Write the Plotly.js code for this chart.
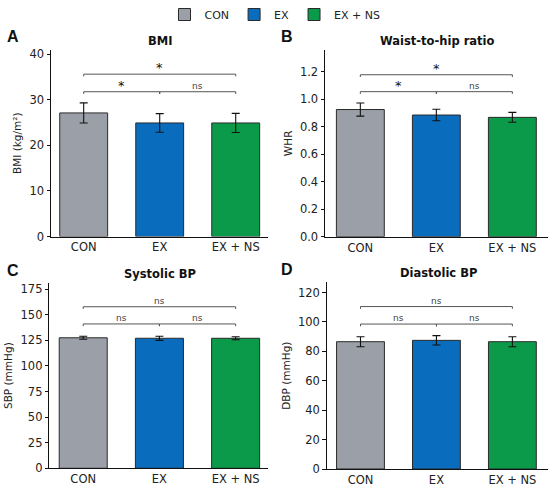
<!DOCTYPE html>
<html>
<head>
<meta charset="utf-8">
<script src="https://cdn.plot.ly/plotly-3.0.1.min.js"></script>
<style>html,body{margin:0;padding:0;background:#fff;}#chart{width:550px;height:487px;}</style>
</head>
<body>
<div id="chart"></div>
<script>
// ---- data ----
const groups = ["CON", "EX", "EX + NS"];
const panelLetters = ["A", "B", "C", "D"];
const panelTitles = ["BMI", "Waist-to-hip ratio", "Systolic BP", "Diastolic BP"];
const yTitles = ["BMI (kg/m²)", "WHR", "SBP (mmHg)", "DBP (mmHg)"];
const bmiMean = [27.1, 24.9, 24.9];
const bmiSD = [2.2, 2.05, 2.1];
const whrMean = [0.925, 0.885, 0.868];
const whrSD = [0.048, 0.042, 0.036];
const sbpMean = [127.5, 127.0, 127.0];
const sbpSD = [1.5, 2.0, 1.5];
const dbpMean = [86.6, 87.5, 86.6];
const dbpSD = [3.4, 3.2, 3.4];
// significance labels: [CON vs EX, EX vs EX+NS, CON vs EX+NS]
const bmiSig = ["*", "ns", "*"];
const whrSig = ["*", "ns", "*"];
const sbpSig = ["ns", "ns", "ns"];
const dbpSig = ["ns", "ns", "ns"];

// ---- styles / layout ----
const colors = ["#9ba0a8", "#0a6cbc", "#0a9a4a"];
const W = 550, H = 487;
const means = [bmiMean, whrMean, sbpMean, dbpMean];
const sds = [bmiSD, whrSD, sbpSD, dbpSD];
const sigs = [bmiSig, whrSig, sbpSig, dbpSig];
// pixel geometry of each panel
const geo = [
  {x0: 51, x1: 268.4, xr: [-0.43, 2.43], y0: 236.5, y1: 50, yr: [0, 40.9], dt: 10, fmt: "", bLow: 31.75, bHigh: 35.6},
  {x0: 325, x1: 547.7, xr: [-0.465, 2.465], y0: 236.7, y1: 50, yr: [0, 1.358], dt: 0.2, fmt: ".1f", bLow: 1.055, bHigh: 1.178},
  {x0: 49.3, x1: 268.4, xr: [-0.445, 2.43], y0: 468.3, y1: 283, yr: [0, 181], dt: 25, fmt: "", bLow: 141, bHigh: 157.8},
  {x0: 326.7, x1: 547.7, xr: [-0.445, 2.465], y0: 469, y1: 282.3, yr: [0, 127], dt: 20, fmt: "", bLow: 98.6, bHigh: 110.5}
];
const font = "DejaVu Sans, sans-serif";
const traces = [];
const layout = {
  width: W, height: H,
  margin: {l: 0, r: 0, t: 0, b: 0},
  paper_bgcolor: "#fff", plot_bgcolor: "#fff",
  barmode: "overlay",
  showlegend: true,
  legend: {orientation: "h", x: 0.5, xanchor: "center", y: 1.0, yanchor: "top",
           font: {family: font, size: 11, color: "#222"}, itemwidth: 30, tracegroupgap: 0},
  font: {family: font, color: "#222"},
  shapes: [], annotations: []
};

geo.forEach((g, p) => {
  const sfx = p === 0 ? "" : String(p + 1);
  const xa = "x" + sfx, ya = "y" + sfx;
  groups.forEach((gr, i) => {
    traces.push({
      type: "bar", x: [gr], y: [means[p][i]], xaxis: xa, yaxis: ya,
      name: gr, legendgroup: gr, showlegend: p === 0,
      width: 0.63,
      marker: {color: colors[i], line: {color: "#2a2a2a", width: 1}},
      error_y: {type: "data", array: [sds[p][i]], visible: true, color: "#111", thickness: 1.1, width: 4},
      hoverinfo: "y"
    });
  });
  layout["xaxis" + sfx] = {
    domain: [g.x0 / W, g.x1 / W], anchor: ya, type: "category",
    categoryorder: "array", categoryarray: groups,
    range: g.xr, showline: true, linecolor: "#111", linewidth: 1,
    ticks: "", showgrid: false, zeroline: false,
    tickfont: {family: font, size: 11.5, color: "#222"}, fixedrange: true
  };
  layout["yaxis" + sfx] = {
    domain: [1 - g.y0 / H, 1 - g.y1 / H], anchor: xa,
    range: g.yr, dtick: g.dt, tick0: 0, tickformat: g.fmt,
    showline: true, linecolor: "#111", linewidth: 1,
    ticks: "outside", ticklen: 3.5, tickcolor: "#111",
    showgrid: false, zeroline: false,
    tickfont: {family: font, size: 11.5, color: "#222"},
    title: {text: yTitles[p], font: {family: font, size: 10.5, color: "#222"}, standoff: 5},
    fixedrange: true
  };
  const drop = (g.yr[1] - g.yr[0]) * 0.012;
  const lc = {color: "#555", width: 1};
  const bracket = (a, b, h) => {
    layout.shapes.push({type: "path", xref: xa, yref: ya,
      path: `M ${a},${h - drop} L ${a},${h} L ${b},${h} L ${b},${h - drop}`, line: lc});
  };
  bracket(0, 1, g.bLow);
  bracket(1, 2, g.bLow);
  bracket(0, 2, g.bHigh);
  const lab = (xm, h, t) => {
    const star = t === "*";
    layout.annotations.push({xref: xa, yref: ya, x: xm, y: h, text: t, showarrow: false,
      yanchor: "bottom", yshift: star ? -3 : -1,
      font: {family: font, size: star ? 13 : 9, color: star ? "#111" : "#444"}});
  };
  lab(0.5, g.bLow, sigs[p][0]);
  lab(1.5, g.bLow, sigs[p][1]);
  lab(1, g.bHigh, sigs[p][2]);
  // panel title
  layout.annotations.push({xref: "paper", yref: "paper", x: (g.x0 + (g.x1 - g.x0) * 0.5 + 1) / W,
    y: 1 - (g.y1 - 9) / H, text: "<b>" + panelTitles[p] + "</b>", showarrow: false,
    xanchor: "center", yanchor: "middle", font: {family: font, size: 11.5, color: "#111"}});
  // panel letter
  layout.annotations.push({xref: "paper", yref: "paper", x: (p % 2 === 0 ? 5 : 279) / W,
    y: 1 - (g.y1 - 13) / H, text: "<b>" + panelLetters[p] + "</b>", showarrow: false,
    xanchor: "left", yanchor: "middle", font: {family: "Liberation Sans, Arial, sans-serif", size: 16, color: "#111"}});
});

Plotly.newPlot("chart", traces, layout, {displayModeBar: false, staticPlot: true});
</script>
</body>
</html>
